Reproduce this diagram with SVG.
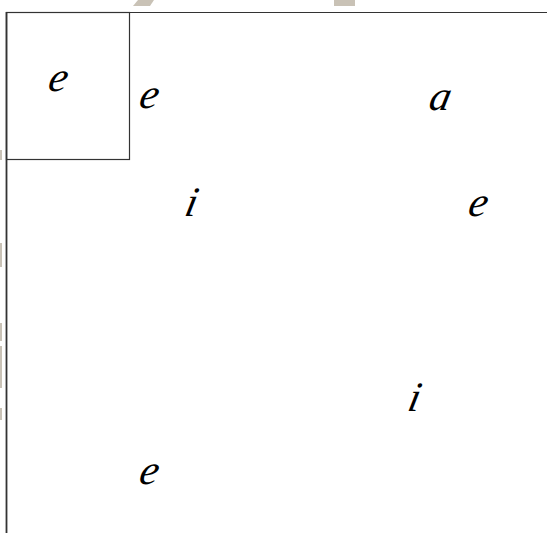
<svg xmlns="http://www.w3.org/2000/svg" width="547" height="533" viewBox="0 0 547 533">
<style>
.lbl{font-family:"Liberation Serif","DejaVu Serif",serif;font-style:italic;font-size:42px;fill:#000;text-anchor:middle}
.frame{stroke:#333;fill:none}
.wm{fill:#c9c2b6}
</style>
<rect width="547" height="533" fill="#fff"/>
<g id="watermark">
<polygon class="wm" points="133,6 150,6 154,0 138,0" fill="#a9a090"/>
<rect class="wm" x="334" y="0" width="21" height="6"/>
<rect class="wm" x="0" y="150" width="2" height="10"/>
<rect class="wm" x="0" y="243" width="2" height="24"/>
<rect class="wm" x="0" y="323" width="2" height="18"/>
<rect class="wm" x="0" y="346" width="2" height="42"/>
<rect class="wm" x="0" y="408" width="2" height="12"/>
</g>
<g id="frame">
<line class="frame" x1="6" y1="12.5" x2="547" y2="12.5" stroke-width="1.2"/>
<line class="frame" x1="6.5" y1="12" x2="6.5" y2="533" stroke-width="1.8" stroke="#444"/>
</g>
<g id="box">
<rect class="frame" x="6.5" y="12.5" width="123" height="147" stroke-width="1.2"/>
<text class="lbl" transform="translate(56,91) skewX(-12)">e</text>
</g>
<g id="n-e1"><text class="lbl" transform="translate(147,108) skewX(-12)">e</text></g>
<g id="n-a"><text class="lbl" transform="translate(438,110) skewX(-12)">a</text></g>
<g id="n-i1"><text class="lbl" transform="translate(189,216) skewX(-12)">i</text></g>
<g id="n-e2"><text class="lbl" transform="translate(476,216) skewX(-12)">e</text></g>
<g id="n-i2"><text class="lbl" transform="translate(412,411) skewX(-12)">i</text></g>
<g id="n-e3"><text class="lbl" transform="translate(147,484) skewX(-12)">e</text></g>
<g id="connectors"/>
</svg>
